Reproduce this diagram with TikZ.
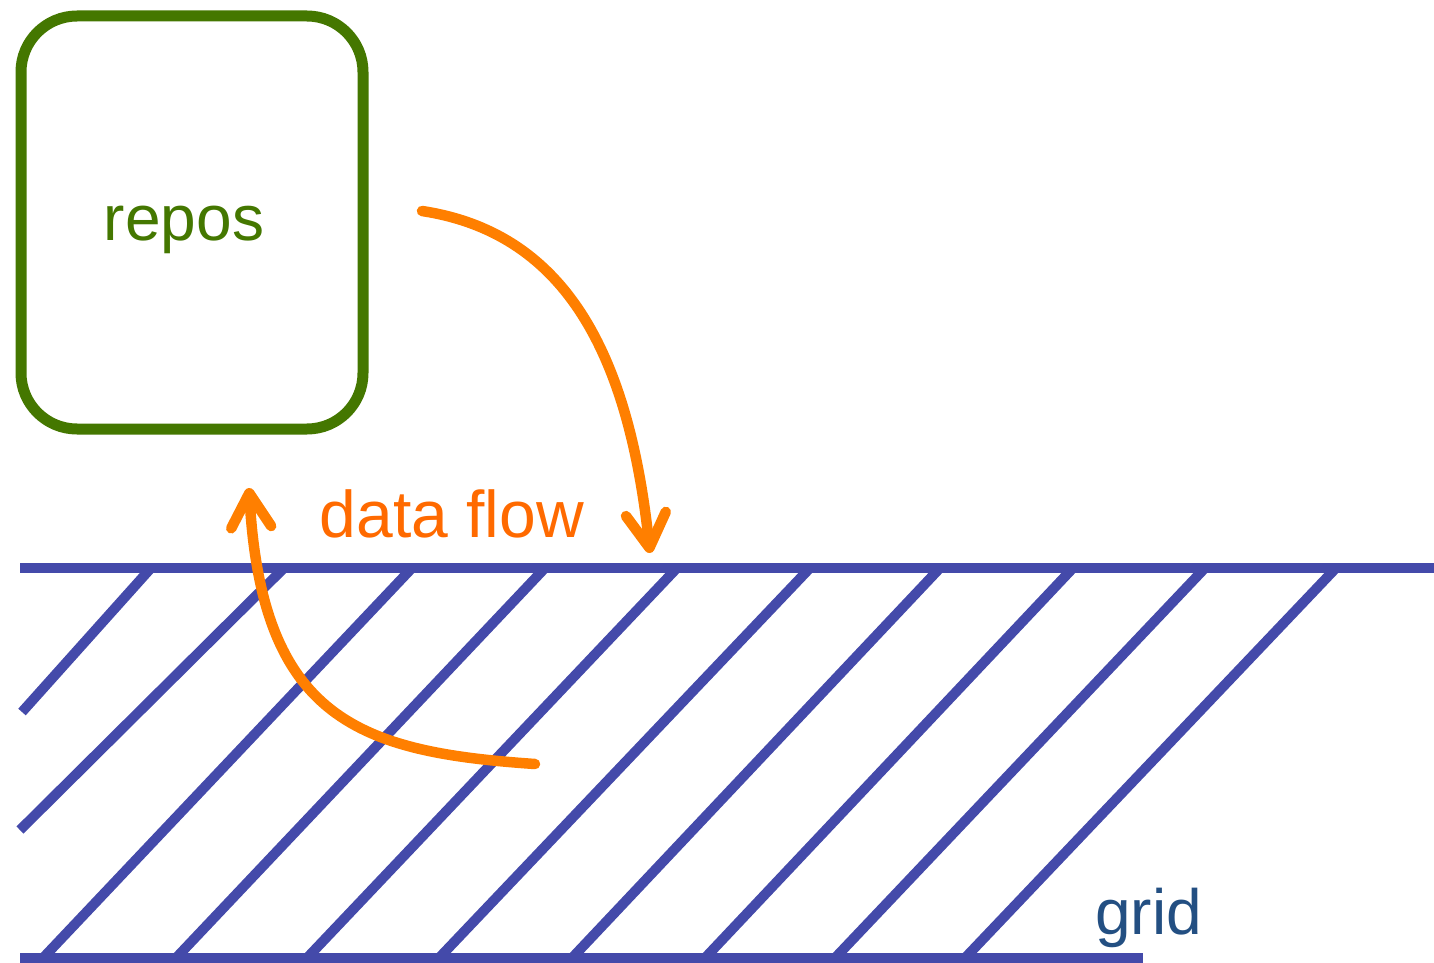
\documentclass[tikz,border=0pt]{standalone}
\usepackage{fontspec}
\setmainfont{Liberation Sans}
\usetikzlibrary{arrows.meta}
\definecolor{hatchblue}{RGB}{68,74,170}
\definecolor{repogreen}{RGB}{68,119,0}
\definecolor{floworange}{RGB}{255,127,0}
\definecolor{flowtext}{RGB}{255,106,0}
\definecolor{gridtext}{RGB}{35,79,130}
\tikzset{
  hatch/.style={draw=hatchblue, line width=10pt, line cap=butt},
  repobox/.style={draw=repogreen, line width=11pt, rounded corners=56pt,
    minimum width=342pt, minimum height=413pt, inner sep=0pt},
  bigtext/.style={font=\fontsize{64}{77}\selectfont, anchor=base, inner sep=0pt},
  flowarrow/.style={draw=floworange, line width=10.5pt, line cap=round,
    -{Straight Barb[length=34pt,width=40pt,round]}},
}
\begin{document}
\begin{tikzpicture}[x=1pt,y=-1pt]
\useasboundingbox (0,0) rectangle (1434,963);

% grid hatching
\draw[hatch] (20,568) -- (1434,568);
\draw[hatch] (20,958) -- (1143,958);
\draw[hatch] (151,568) -- (22,712);
\draw[hatch] (284,568) -- (20,830);
\foreach \t/\b in {412/43, 545/176, 677/307, 810/439, 940/572, 1073/705, 1205/835, 1336/965}
  \draw[hatch] (\t,568) -- (\b,958);

% repos box
\node[repobox] (repos) at (192,222.5) {};
\node[bigtext, text=repogreen] (reposlabel) at (184,240) {repos};

% labels
\node[bigtext, text=flowtext, font=\fontsize{66}{79}\selectfont] (flowlabel) at (452,537) {data flow};
\node[bigtext, text=gridtext] (gridlabel) at (1148.5,934) {grid};

% data flow arrows
\coordinate (outstart) at (422,211);
\coordinate (outend) at (650,553);
\coordinate (instart) at (535,764);
\coordinate (inend) at (249,488);
\draw[flowarrow] (outstart) .. controls (560,232) and (628,345) .. (outend);
\draw[flowarrow] (instart) .. controls (360,752) and (262,720) .. (inend);
\end{tikzpicture}
\end{document}
